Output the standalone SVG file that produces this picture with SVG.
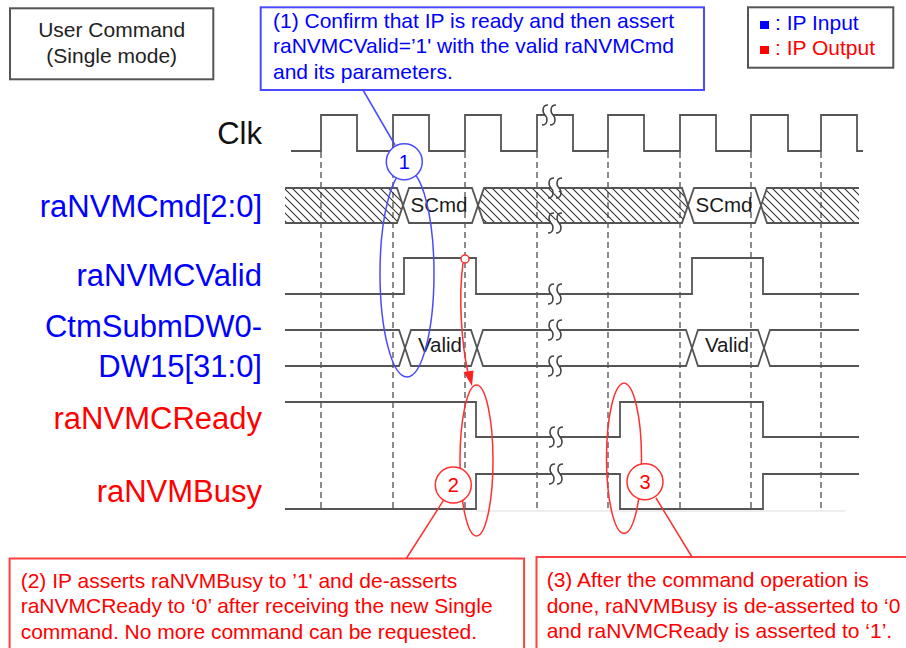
<svg xmlns="http://www.w3.org/2000/svg" xmlns:xlink="http://www.w3.org/1999/xlink" width="906" height="648" viewBox="0 0 906 648">
<style>
text{font-family:"Liberation Sans",Arial,sans-serif}
.sig{font-size:31px;text-anchor:end}
.blue{fill:#0000ff}
.red{fill:#ff0000}
.note{font-size:21px}
.wave{fill:none;stroke:#555;stroke-width:1.8}
.dash{fill:none;stroke:#666;stroke-width:1.5;stroke-dasharray:6 4}
.bus{font-size:20.5px;fill:#1a1a1a;text-anchor:middle}
.sq{fill:none;stroke:#444;stroke-width:1.5}
.num{font-size:20px;text-anchor:middle}
</style>
<defs>
<pattern id="hatch" patternUnits="userSpaceOnUse" width="8" height="8">
<path d="M-2,-2 L10,10 M-2,6 L2,10 M6,-2 L10,2" stroke="#333" stroke-width="1.1"/>
</pattern>
<g id="brk">
<rect x="-4" y="-3" width="8" height="6" fill="#fff"/>
<path class="sq" d="M-1,-10 C-7,-10 -7,-3 -4,0 C-1,3 -1,10 -7,10"/>
<path class="sq" d="M7,-10 C1,-10 1,-3 4,0 C7,3 7,10 1,10"/>
</g>
</defs>
<rect width="906" height="648" fill="#fff"/>

<g id="title">
<rect x="10" y="8.3" width="203.3" height="71" fill="#fff" stroke="#555" stroke-width="2"/>
<text x="111.7" y="37" font-size="21" fill="#222" text-anchor="middle">User Command</text>
<text x="111.7" y="63" font-size="21" fill="#222" text-anchor="middle">(Single mode)</text>
</g>

<g id="legend">
<rect x="748" y="7.3" width="145.3" height="60.4" fill="#fff" stroke="#555" stroke-width="2"/>
<rect x="760" y="21" width="9" height="8" fill="#0000ff"/>
<text x="775" y="30" class="note blue">: IP Input</text>
<rect x="760" y="46" width="9" height="8" fill="#ff0000"/>
<text x="775" y="55" class="note red">: IP Output</text>
</g>

<g id="labels">
<text x="262" y="144" class="sig" fill="#111">Clk</text>
<text x="262" y="217" class="sig blue">raNVMCmd[2:0]</text>
<text x="262" y="286" class="sig blue">raNVMCValid</text>
<text x="262" y="337" class="sig blue">CtmSubmDW0-</text>
<text x="262" y="377" class="sig blue">DW15[31:0]</text>
<text x="262" y="429" class="sig red">raNVMCReady</text>
<text x="262" y="502" class="sig red">raNVMBusy</text>
</g>

<g id="waveforms">
<line x1="476" y1="511" x2="845" y2="511" stroke="#e8e8e8" stroke-width="1.5"/>
<path class="dash" d="M321,152V511 M393,152V511 M465,152V511 M537,152V511 M608,152V511 M680,152V511 M751,152V511 M821,152V511"/>
<path class="wave" d="M291,151H321V115H357V151H393V115H429V151H465V115H501V151H537V115H573V151H608V115H644V151H680V115H716V151H751V115H788V151H821V115H857V151H863"/>
<polygon points="285,188 397,188 403,205.5 397,223 285,223" fill="url(#hatch)"/>
<polygon points="478,205.5 484,188 682,188 688,205.5 682,223 484,223" fill="url(#hatch)"/>
<polygon points="761,205.5 767,188 859,188 859,223 767,223" fill="url(#hatch)"/>
<path class="wave" d="M285,188H397L409,223H472L484,188H682L694,223H755L767,188H859"/>
<path class="wave" d="M285,223H397L409,188H472L484,223H682L694,188H755L767,223H859"/>
<text x="439" y="211.5" class="bus">SCmd</text>
<text x="724" y="211.5" class="bus">SCmd</text>
<path class="wave" d="M285,294H404V258H476V294H692V258H763V294H859"/>
<path class="wave" d="M285,330H399L411,366H471L483,330H686L698,366H758L770,330H859"/>
<path class="wave" d="M285,366H399L411,330H471L483,366H686L698,330H758L770,366H859"/>
<text x="440" y="352" class="bus">Valid</text>
<text x="727" y="352" class="bus">Valid</text>
<path class="wave" d="M285,402H476V437H620V402H763V437H859"/>
<path class="wave" d="M285,509H476V474H620V509H763V474H859"/>
<use xlink:href="#brk" x="549" y="115"/>
<use xlink:href="#brk" x="555" y="188"/>
<use xlink:href="#brk" x="555" y="223"/>
<use xlink:href="#brk" x="555" y="294"/>
<use xlink:href="#brk" x="555" y="330"/>
<use xlink:href="#brk" x="555" y="366"/>
<use xlink:href="#brk" x="556" y="437"/>
<use xlink:href="#brk" x="556" y="474"/>
</g>

<g id="note1">
<rect x="260.7" y="7.3" width="443.3" height="82.7" fill="#fff" stroke="#4a4aff" stroke-width="2"/>
<text x="273" y="28" class="note blue">(1) Confirm that IP is ready and then assert</text>
<text x="273" y="53" class="note blue">raNVMCValid=’1' with the valid raNVMCmd</text>
<text x="273" y="79" class="note blue">and its parameters.</text>
</g>

<g id="note2">
<rect x="9.6" y="558.5" width="514.5" height="100" fill="#fff" stroke="#ff4040" stroke-width="2"/>
<text x="20.7" y="587.5" class="note red">(2) IP asserts raNVMBusy to ’1' and de-asserts</text>
<text x="20.7" y="613" class="note red">raNVMCReady to ‘0’ after receiving the new Single</text>
<text x="20.7" y="638.5" class="note red">command. No more command can be requested.</text>
</g>

<g id="note3">
<rect x="536.5" y="557" width="380" height="100" fill="#fff" stroke="#ff4040" stroke-width="2"/>
<text x="546.7" y="587" class="note red">(3) After the command operation is</text>
<text x="546.7" y="612.5" class="note red">done, raNVMBusy is de-asserted to ‘0</text>
<text x="546.7" y="638" class="note red">and raNVMCReady is asserted to ‘1’.</text>
</g>

<g id="connectors">
<line x1="363" y1="90" x2="395" y2="145" stroke="#4a4aff" stroke-width="1.5"/>
<ellipse cx="407" cy="273.5" rx="27" ry="103.5" fill="none" stroke="#4a4aff" stroke-width="1.5"/>
<path d="M463,263 C458,300 462,345 468,373" fill="none" stroke="#ff3030" stroke-width="1.5"/>
<polygon points="472,386 463.5,372 473.5,370.5" fill="#ff2020"/>
<circle cx="465" cy="259" r="4" fill="#fff" stroke="#ff3030" stroke-width="1.5"/>
<ellipse cx="476.5" cy="460.5" rx="16.5" ry="75.5" fill="none" stroke="#ff3030" stroke-width="1.5"/>
<ellipse cx="624" cy="458.3" rx="17.5" ry="75" fill="none" stroke="#ff3030" stroke-width="1.5"/>
<line x1="443.6" y1="500.2" x2="406.3" y2="558.5" stroke="#ff3030" stroke-width="1.5"/>
<line x1="656" y1="498" x2="692" y2="557" stroke="#ff3030" stroke-width="1.5"/>
</g>

<g id="mark1">
<circle cx="404.3" cy="161.7" r="18" fill="#fff" stroke="#4a4aff" stroke-width="1.5"/>
<text x="404.3" y="169" class="num blue">1</text>
</g>
<g id="mark2">
<circle cx="453.3" cy="485" r="18" fill="#fff" stroke="#ff3030" stroke-width="1.5"/>
<text x="453.3" y="492.3" class="num red">2</text>
</g>
<g id="mark3">
<circle cx="645" cy="481.7" r="18" fill="#fff" stroke="#ff3030" stroke-width="1.5"/>
<text x="645" y="489" class="num red">3</text>
</g>
</svg>
